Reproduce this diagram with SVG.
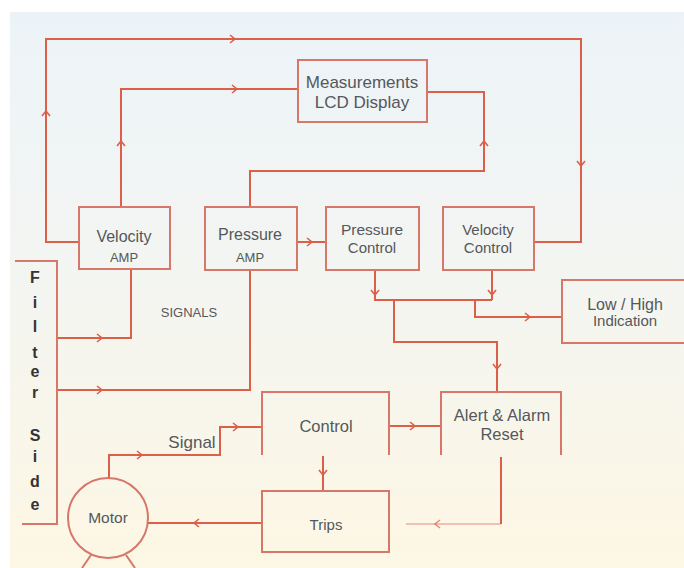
<svg xmlns="http://www.w3.org/2000/svg" width="684" height="568" viewBox="0 0 684 568">
<style>
.ln{fill:none;stroke:#dc5f4a;stroke-width:2}
.bx{fill:none;stroke:#d6776a;stroke-width:2}
.t{font-family:"Liberation Sans",Arial,sans-serif;fill:#55585b;text-anchor:middle}
.fs{font-family:"Liberation Sans",Arial,sans-serif;fill:#343434;text-anchor:middle;font-weight:bold;font-size:16px}
</style>
<defs>
<linearGradient id="bg" x1="0" y1="0" x2="0" y2="1">
<stop offset="0" stop-color="#ecf3f8"/>
<stop offset="0.45" stop-color="#f3f5f2"/>
<stop offset="1" stop-color="#fdf7e4"/>
</linearGradient>
<path id="chev" d="M-4,-4 L1,0 L-4,4" fill="none" stroke="#dc5f4a" stroke-width="1.6"/>
</defs>
<rect width="684" height="568" fill="#ffffff"/>
<rect x="10" y="12" width="674" height="556" fill="url(#bg)"/>

<g id="connectors">
<path class="ln" d="M79,242 H46 V39 H581 V242 H534"/>
<use href="#chev" transform="translate(46,112) rotate(-90)"/>
<use href="#chev" transform="translate(234,39)"/>
<use href="#chev" transform="translate(581,165) rotate(90)"/>
<path class="ln" d="M121,207 V89 H298"/>
<use href="#chev" transform="translate(121,142) rotate(-90)"/>
<use href="#chev" transform="translate(236,89)"/>
<path class="ln" d="M427,92 H484 V171 H250 V207"/>
<use href="#chev" transform="translate(484,142) rotate(-90)"/>
<path class="ln" d="M297,242 H326"/>
<use href="#chev" transform="translate(311,242)"/>
<path class="ln" d="M375,270 V300 H492 M492,270 V300"/>
<use href="#chev" transform="translate(375,294) rotate(90)"/>
<use href="#chev" transform="translate(492,294) rotate(90)"/>
<path class="ln" d="M394,300 V342 H497 V392"/>
<use href="#chev" transform="translate(497,368) rotate(90)"/>
<path class="ln" d="M475,300 V317 H562"/>
<use href="#chev" transform="translate(529,317)"/>
<path class="ln" d="M131,270 V338 H57"/>
<use href="#chev" transform="translate(101,338)"/>
<path class="ln" d="M250,270 V390 H57"/>
<use href="#chev" transform="translate(101,390)"/>
<path class="ln" d="M109,478 V455 H220 V427 H262" stroke="#e27a55" stroke-width="1.5"/>
<use href="#chev" transform="translate(141,455)"/>
<use href="#chev" transform="translate(237,427)"/>
<path class="ln" d="M389,426 H441"/>
<use href="#chev" transform="translate(414,426)"/>
<path class="ln" d="M323,456 V491" stroke="#c8775a"/>
<use href="#chev" transform="translate(323,474) rotate(90)"/>
<path class="ln" d="M262,523 H148" stroke="#c8775a"/>
<use href="#chev" transform="translate(195,523) rotate(180)"/>
<path class="ln" d="M501,457 V524"/>
<path class="ln" d="M501,524 H406" opacity="0.35"/>
<use href="#chev" transform="translate(436,524) rotate(180)" opacity="0.7"/>
</g>

<g id="display">
<rect class="bx" x="298" y="60" width="129" height="62"/>
<text class="t" x="362" y="88" font-size="17">Measurements</text>
<text class="t" x="362" y="108" font-size="17">LCD Display</text>
</g>
<g id="velocity-amp">
<rect class="bx" x="79" y="207" width="91" height="62"/>
<text class="t" x="124" y="242" font-size="16">Velocity</text>
<text class="t" x="124" y="262" font-size="13">AMP</text>
</g>
<g id="pressure-amp">
<rect class="bx" x="205" y="207" width="92" height="63"/>
<text class="t" x="250" y="240" font-size="16">Pressure</text>
<text class="t" x="250" y="262" font-size="13">AMP</text>
</g>
<g id="pressure-control">
<rect class="bx" x="326" y="207" width="93" height="63"/>
<text class="t" x="372" y="235" font-size="15.5">Pressure</text>
<text class="t" x="372" y="253" font-size="15">Control</text>
</g>
<g id="velocity-control">
<rect class="bx" x="443" y="207" width="91" height="63"/>
<text class="t" x="488" y="235" font-size="15">Velocity</text>
<text class="t" x="488" y="253" font-size="15">Control</text>
</g>
<g id="low-high">
<path class="bx" d="M686,280 H562 V343 H686"/>
<text class="t" x="625" y="310" font-size="16">Low / High</text>
<text class="t" x="625" y="326" font-size="15">Indication</text>
</g>
<g id="signals-label">
<text class="t" x="189" y="317" font-size="13">SIGNALS</text>
</g>
<g id="filter-side">
<path class="bx" d="M15,261 H57 V524 H22"/>
<text class="fs" x="35" y="283">F</text>
<text class="fs" x="35" y="308">i</text>
<text class="fs" x="35" y="332">l</text>
<text class="fs" x="35" y="358">t</text>
<text class="fs" x="35" y="377">e</text>
<text class="fs" x="35" y="398">r</text>
<text class="fs" x="35" y="441">S</text>
<text class="fs" x="35" y="462">i</text>
<text class="fs" x="35" y="487">d</text>
<text class="fs" x="35" y="510">e</text>
</g>
<g id="control">
<path class="bx" d="M262,455 V392 H389 V455"/>
<text class="t" x="326" y="432" font-size="16.5">Control</text>
</g>
<g id="alert">
<path class="bx" d="M441,455 V392 H561 V455"/>
<text class="t" x="502" y="421" font-size="16.5">Alert &amp; Alarm</text>
<text class="t" x="502" y="440" font-size="16.5">Reset</text>
</g>
<g id="signal-label">
<text class="t" x="192" y="448" font-size="17">Signal</text>
</g>
<g id="trips">
<rect class="bx" x="262" y="491" width="127" height="61"/>
<text class="t" x="326" y="530" font-size="15">Trips</text>
</g>
<g id="motor">
<circle class="bx" cx="108" cy="518" r="40" stroke="#c98a72"/>
<path class="bx" d="M91,555 L82,568 M126,555 L135,568" stroke="#c98a72"/>
<text class="t" x="108" y="523" font-size="15.5">Motor</text>
</g>
</svg>
